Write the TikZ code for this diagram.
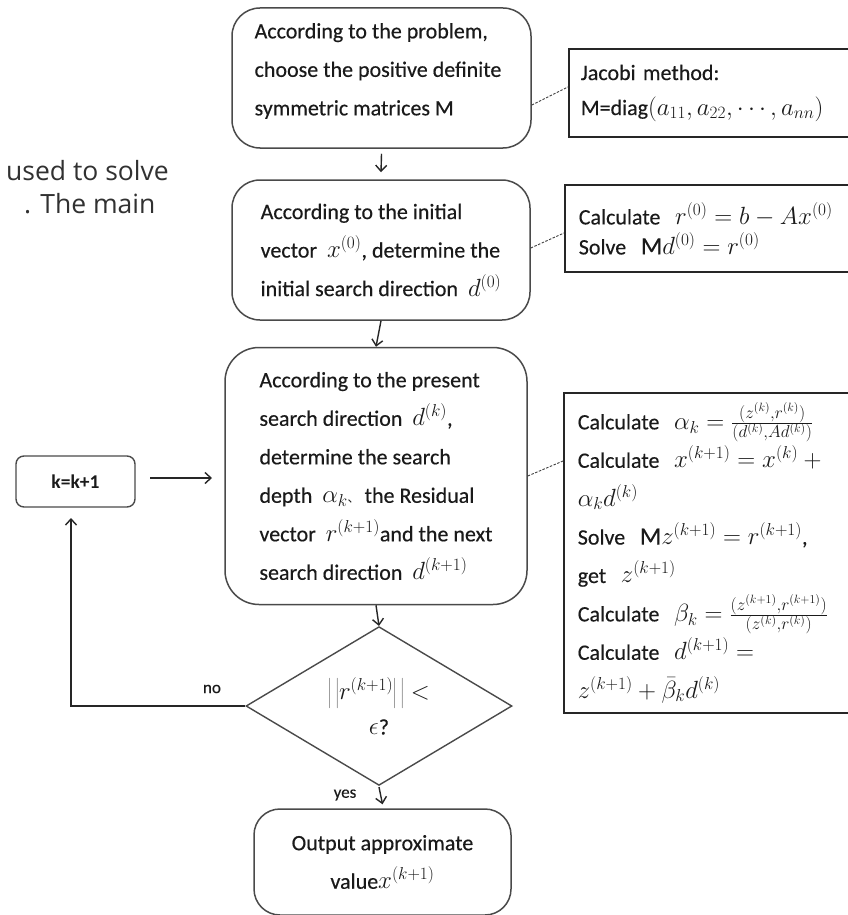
\documentclass[tikz,border=0pt]{standalone}
\usepackage{fontspec}
\setmainfont{Carlito}[UprightFeatures={FakeBold=0.35}]
\newfontfamily\slidefont{Open Sans}
\newfontfamily\cjk{Noto Sans CJK SC}
\usetikzlibrary{shapes.geometric,arrows.meta}
\definecolor{ink}{HTML}{1A1A1A}
\definecolor{edge}{HTML}{4A4A4A}
% larger math alongside the 22pt text
\DeclareMathSizes{22}{25}{17.5}{13}
\begin{document}
\begin{tikzpicture}[x=1pt,y=-1pt,
  stepbox/.style={draw=edge, line width=1.5pt, rounded corners=28pt, align=left,
    text=ink, font=\fontsize{22}{38.5}\selectfont, inner sep=0pt},
  steptext/.style={align=left, text=ink, font=\fontsize{22}{38.5}\selectfont, inner sep=0pt},
  notebox/.style={draw=black!85, line width=1.6pt, anchor=west, align=left,
    text=ink, inner xsep=12pt, inner ysep=0pt, minimum width=300pt, text width=276pt},
  flow/.style={draw=black!85, line width=1.4pt, -{Straight Barb[length=6pt,width=11pt]}},
  link/.style={draw=black!75, line width=0.9pt, dash pattern=on 2.5pt off 1.5pt},
  tag/.style={text=ink, font=\fontsize{17}{20}\selectfont, inner sep=0pt}]
\useasboundingbox (0,0) rectangle (848,915);
\fill[white] (0,0) rectangle (848,915);

% text of the slide behind the chart
\node[anchor=base west, inner sep=0pt, text=ink!90, font=\slidefont\fontsize{26.5}{30}\selectfont] (slideA) at (6,180) {used to solve};
\node[anchor=base west, inner sep=0pt, text=ink!90, font=\slidefont\fontsize{26.5}{30}\selectfont] (slideB) at (24,213) {. The main};

% main steps
\node[stepbox, minimum width=299pt, minimum height=140pt] (choose) at (381.5,78) {};
\node[steptext] (choosetext) at (378,71)
  {According to the problem,\\choose the positive definite\\symmetric matrices M};
\node[stepbox, minimum width=298pt, minimum height=140pt] (init) at (381,250)
  {According to the initial\\vector\ \ $x^{(0)}$, determine the\\initial search direction\ \ $d^{(0)}$};
\node[stepbox, rounded corners=34pt, minimum width=302pt, minimum height=257pt] (iter) at (376,476)
  {According to the present\\search direction\ \ $d^{(k)}$,\\determine the search\\depth\ \ $\alpha_k${\cjk\fontsize{12}{14}\selectfont 、} the Residual\\vector\ \ $r^{(k+1)}$and the next\\search direction\ \ $d^{(k+1)}$};
\node[diamond, draw=edge, line width=1.4pt, minimum width=266pt, minimum height=156pt,
  inner sep=0pt, align=center, text=ink, font=\fontsize{22}{35}\selectfont] (test) at (379,706)
  {$\left|\,\left|r^{(k+1)}\right|\,\right| <$\\$\epsilon$?};
\node[stepbox, rounded corners=26pt, align=center, minimum width=257pt, minimum height=106pt] (out) at (382.5,862)
  {Output approximate\\value$x^{(k+1)}$};
\node[draw=edge, line width=1.4pt, rounded corners=8pt, minimum width=119pt, minimum height=51pt,
  text=ink, font=\bfseries\fontsize{19.5}{22}\selectfont] (inc) at (75.5,481.5) {k=k+1};

% side notes
\node[notebox, minimum height=88pt, font=\fontsize{22}{35}\selectfont] (jacobi) at (568,93)
  {Jacobi method:\\M=diag$(a_{11},a_{22},\cdots,a_{nn})$};
\node[notebox, minimum height=87pt, inner xsep=14pt, font=\fontsize{22}{30}\selectfont] (start) at (564,228.5)
  {Calculate\ \ $r^{(0)}=b-Ax^{(0)}$\\Solve\ \ $\mathrm{M}d^{(0)}=r^{(0)}$};
\node[notebox, minimum height=320pt, inner xsep=14pt, font=\fontsize{22}{38.4}\selectfont] (update) at (563,553)
  {Calculate\ \ $\alpha_k=\frac{(z^{(k)},r^{(k)})}{(d^{(k)},Ad^{(k)})}$\\
   Calculate\ \ $x^{(k+1)}=x^{(k)}+{}$\\
   $\alpha_k d^{(k)}$\\
   Solve\ \ $\mathrm{M}z^{(k+1)}=r^{(k+1)}$,\\
   get\ \ $z^{(k+1)}$\\
   Calculate\ \ $\beta_k=\frac{(z^{(k+1)},r^{(k+1)})}{(z^{(k)},r^{(k)})}$\\
   Calculate\ \ $d^{(k+1)}=$\\
   $z^{(k+1)}+\bar{\beta}_k d^{(k)}$};

% flow
\draw[flow] ([yshift=-5pt]choose.south) -- ([yshift=7pt]init.north);
\draw[flow] (init.south) -- (iter.north);
\draw[flow] (iter.south) -- (test.north);
\draw[flow] ([yshift=-1pt]test.south) -- ([yshift=4pt]out.north);
\coordinate (loopcorner) at (71,706);
\coordinate (looptip) at (71,518);
\draw[flow] (test.west) -- (loopcorner) -- (looptip);
\coordinate (incfrom) at (150,478);
\coordinate (incto) at (212,478);
\draw[flow] (incfrom) -- (incto);
\node[tag] (nolabel) at (212,689) {no};
\node[tag] (yeslabel) at (345,795) {yes};

% links to the notes
\draw[link] ([yshift=-27pt]choose.east) -- ([yshift=6pt]jacobi.west);
\draw[link] ([yshift=2pt]init.east) -- ([yshift=-4.5pt]start.west);
\draw[link] (iter.east) -- ([yshift=92pt]update.west);
\end{tikzpicture}
\end{document}
